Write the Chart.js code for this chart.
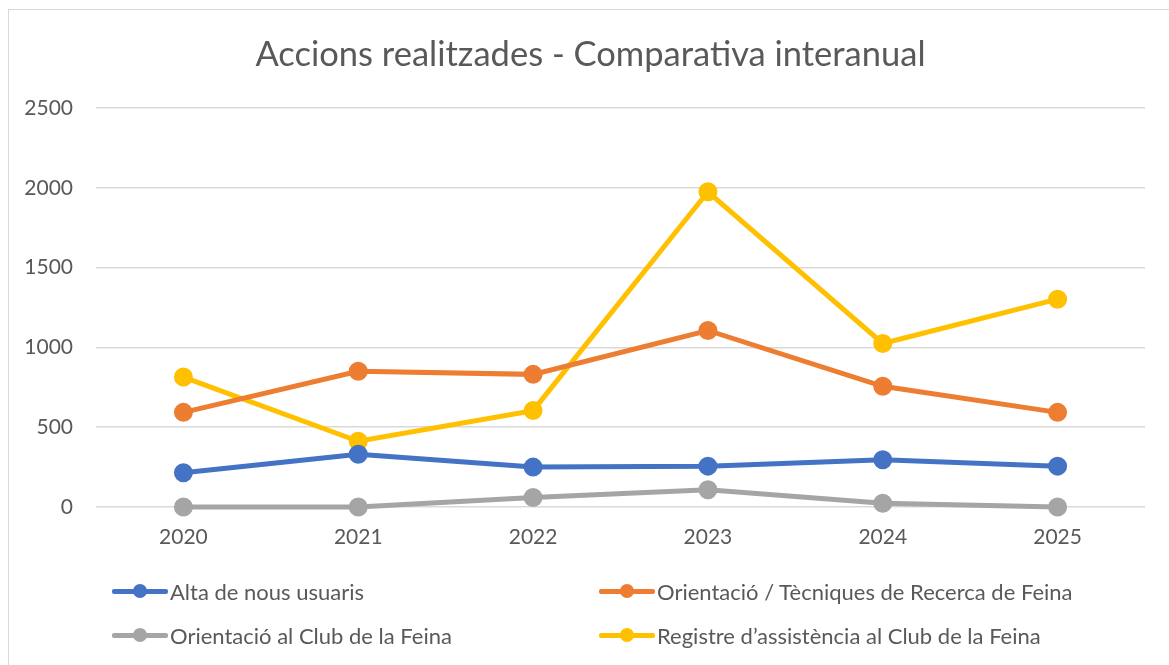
<!DOCTYPE html>
<html>
<head>
<meta charset="utf-8">
<script src="https://cdn.jsdelivr.net/npm/chart.js@4.4.1/dist/chart.umd.min.js"></script>
<style>
    html, body { margin: 0; padding: 0; background: #fff; overflow: hidden; }
    #wrap { position: relative; width: 1169px; height: 665px; }
    #frame {
        position: absolute; left: 8px; top: 9px; width: 1200px; height: 700px;
        border: 1px solid #d9d9d9; box-sizing: border-box; pointer-events: none;
    }
    #chart { position: absolute; left: 0; top: 0; }
    #title {
        position: absolute; left: 0; top: 32px; width: 1181px; text-align: center;
        font-family: Lato, sans-serif; font-size: 34.5px; line-height: 41.4px;
        color: #595959; white-space: nowrap;
    }
    .legend-item {
        position: absolute; display: flex; align-items: center;
        font-family: Lato, sans-serif; font-size: 22px; color: #595959;
        white-space: nowrap;
    }
    .legend-mark { position: relative; width: 56px; height: 14px; margin-right: 2px; }
    .legend-mark .ln { position: absolute; left: 0; right: 0; top: 4.5px; height: 5px; border-radius: 2px; }
    .legend-mark .dot { position: absolute; left: 21px; top: 0; width: 14px; height: 14px; border-radius: 50%; }
</style>
</head>
<body>
<div id="wrap">
    <canvas id="chart" width="1169" height="665"></canvas>
    <div id="frame"></div>
    <div id="title">Accions realitzades - Comparativa interanual</div>
    <div id="legend"></div>
</div>
<script>
// Data
const years = ['2020', '2021', '2022', '2023', '2024', '2025'];
const altaUsuaris = [215, 331, 250, 256, 296, 256];
const orientacioTecniques = [593, 850, 831, 1106, 756, 593];
const orientacioClub = [0, 0, 60, 108, 24, 0];
const registreAssistencia = [814, 412, 604, 1975, 1025, 1302];
const seriesNames = [
    'Alta de nous usuaris',
    'Orientació / Tècniques de Recerca de Feina',
    'Orientació al Club de la Feina',
    'Registre d\u2019assistència al Club de la Feina'
];
const seriesColors = ['#4472c4', '#ed7d31', '#a5a5a5', '#ffc000'];
const yTicks = [0, 500, 1000, 1500, 2000, 2500];

const textColor = '#595959';
const gridColor = '#d9d9d9';

function makeDataset(i, values) {
    return {
        label: seriesNames[i],
        data: values,
        borderColor: seriesColors[i],
        backgroundColor: seriesColors[i],
        pointBackgroundColor: seriesColors[i],
        pointBorderColor: seriesColors[i],
        borderWidth: 5,
        pointRadius: 7,
        pointHoverRadius: 7,
        tension: 0,
        clip: false
    };
}

const ctx = document.getElementById('chart').getContext('2d');
const chart = new Chart(ctx, {
    type: 'line',
    data: {
        labels: years,
        datasets: [
            makeDataset(0, altaUsuaris),
            makeDataset(1, orientacioTecniques),
            makeDataset(2, orientacioClub),
            makeDataset(3, registreAssistencia)
        ]
    },
    options: {
        responsive: false,
        animation: false,
        layout: { padding: { left: 0, right: 24, top: 108, bottom: 118 } },
        plugins: {
            legend: { display: false },
            tooltip: { enabled: false },
            title: { display: false }
        },
        scales: {
            x: {
                offset: true,
                grid: { display: false, drawTicks: false },
                border: { display: false },
                ticks: {
                    color: textColor,
                    font: { family: 'Lato', size: 21 },
                    padding: 18,
                    maxRotation: 0
                },
                afterFit: function(scale) { scale.height = 40; }
            },
            y: {
                min: 0,
                max: 2500,
                grid: { color: gridColor, lineWidth: 1.5, drawTicks: false },
                border: { display: false },
                ticks: {
                    stepSize: 500,
                    color: textColor,
                    font: { family: 'Lato', size: 21 },
                    padding: 23,
                    callback: v => String(v)
                },
                afterBuildTicks: function(scale) {
                    scale.ticks = yTicks.map(v => ({ value: v }));
                },
                afterFit: function(scale) { scale.width = 96; }
            }
        }
    }
});

// Legend in two columns below the chart
const legendPos = [
    { left: 112, top: 591 },
    { left: 599, top: 591 },
    { left: 112, top: 635 },
    { left: 599, top: 635 }
];
const legendEl = document.getElementById('legend');
chart.data.datasets.forEach((ds, i) => {
    const item = document.createElement('div');
    item.className = 'legend-item';
    item.style.left = legendPos[i].left + 'px';
    item.style.top = (legendPos[i].top - 13) + 'px';
    item.style.height = '26px';
    item.innerHTML = `
        <span class="legend-mark">
            <span class="ln" style="background:${ds.borderColor}"></span>
            <span class="dot" style="background:${ds.borderColor}"></span>
        </span>
        <span>${ds.label}</span>
    `;
    legendEl.appendChild(item);
});
</script>
</body>
</html>
